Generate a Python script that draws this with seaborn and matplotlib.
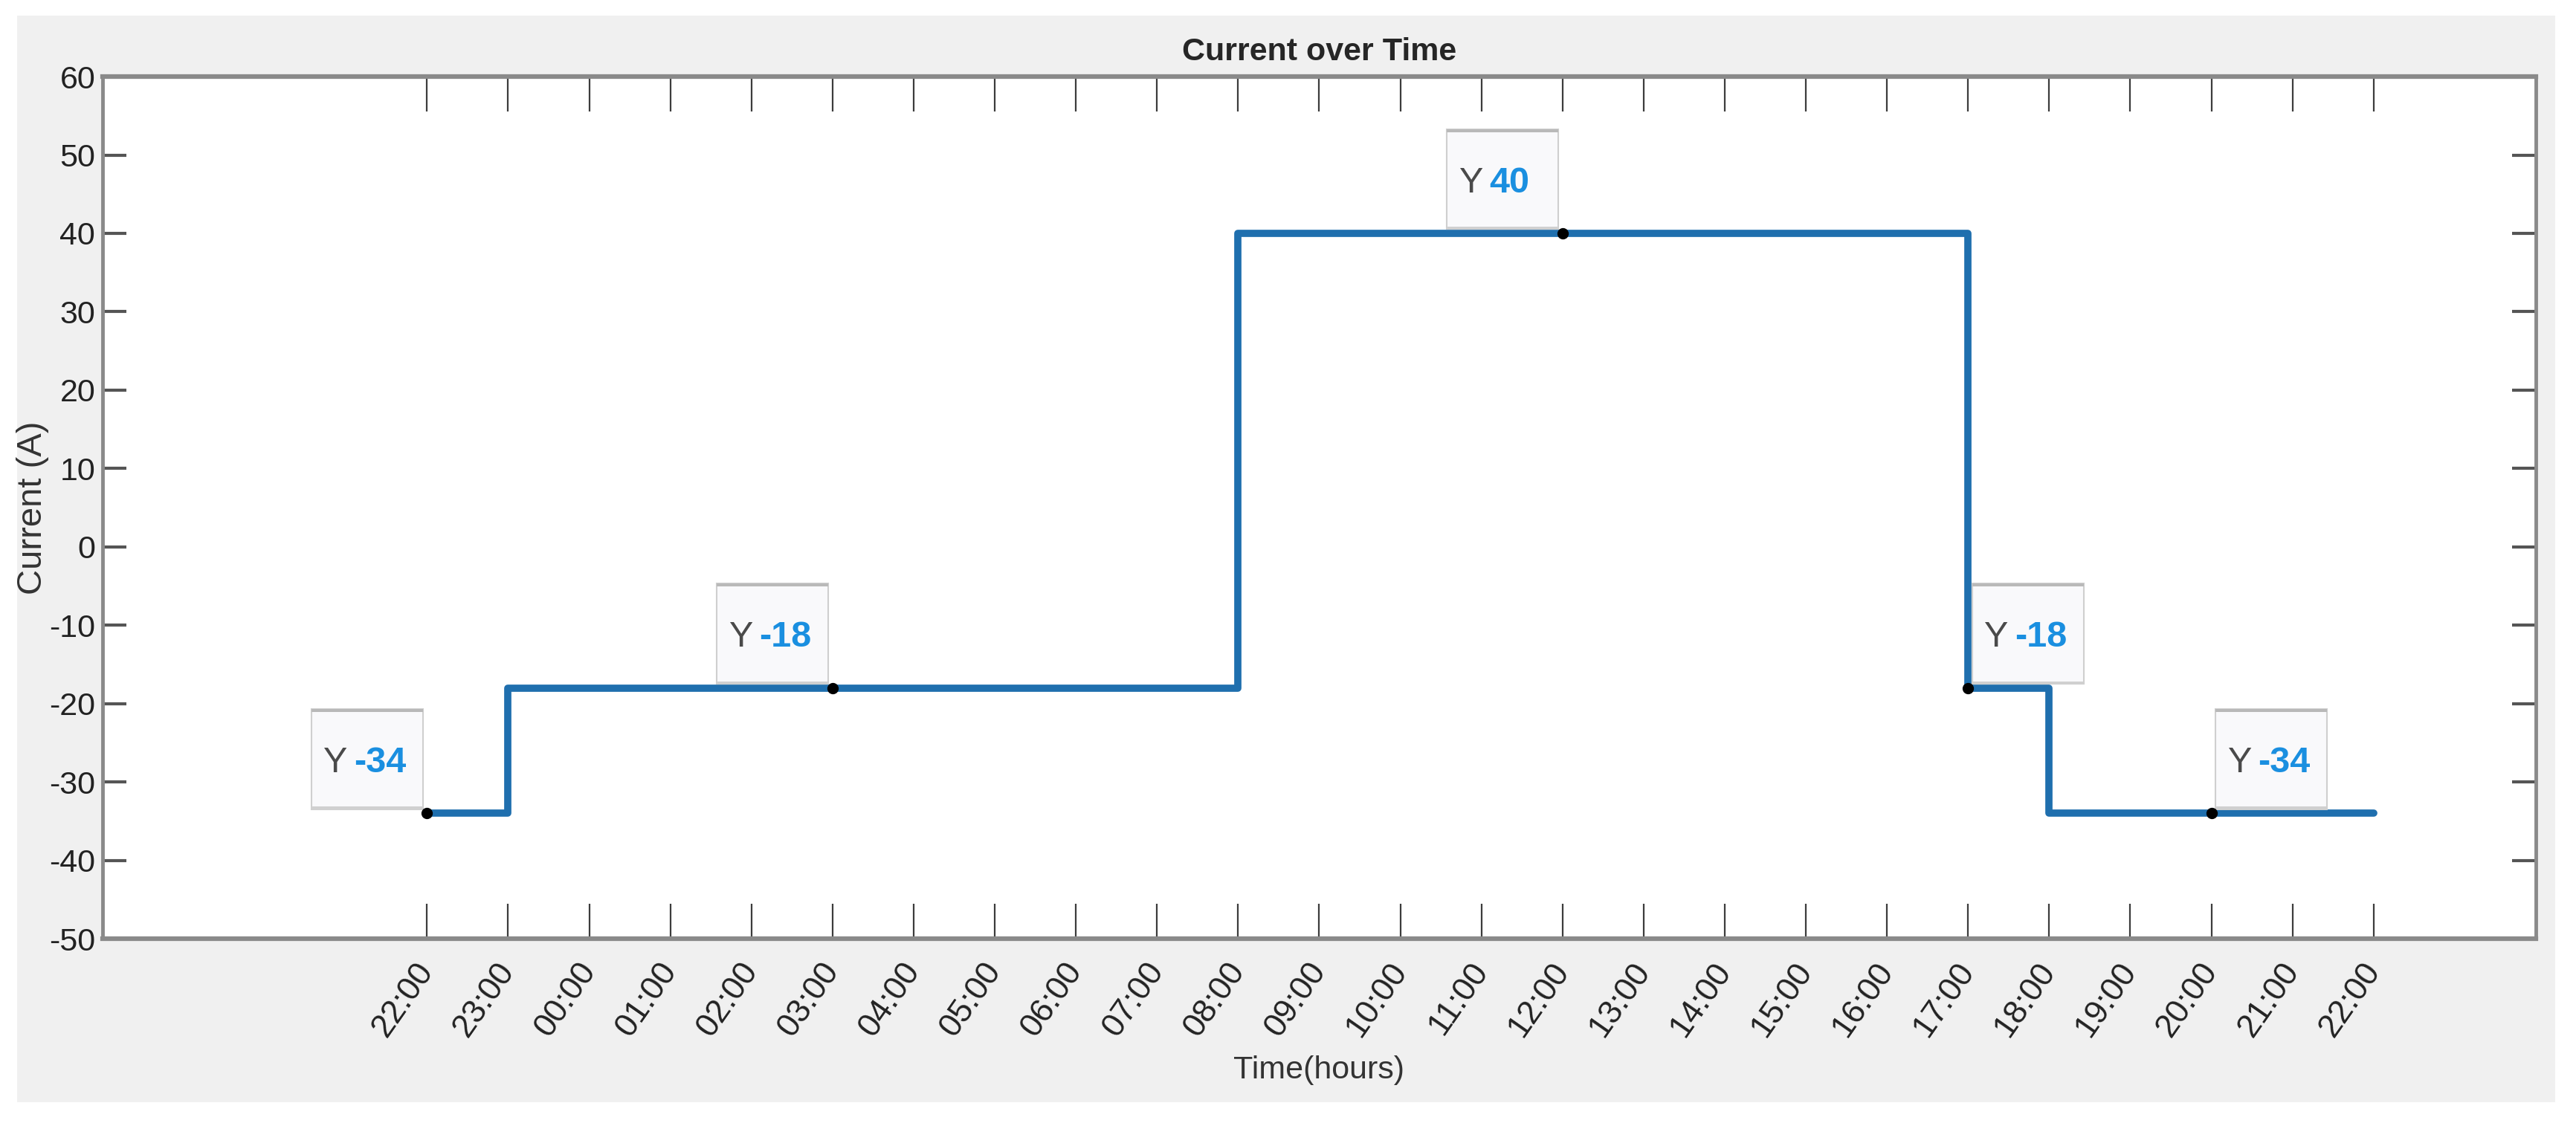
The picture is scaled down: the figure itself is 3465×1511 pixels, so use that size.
import pandas as pd
import seaborn as sns
import matplotlib.pyplot as plt
import matplotlib.dates as mdates
from matplotlib.patches import Rectangle
from matplotlib.text import Text
from matplotlib.offsetbox import DrawingArea, AnnotationBbox

# step data: time where the current changes, and the new value
change_times = ['2024-01-01 22:00', '2024-01-01 23:00', '2024-01-02 08:00',
                '2024-01-02 17:00', '2024-01-02 18:00', '2024-01-02 22:00']
current = [-34, -18, 40, -18, -34, -34]

# data tips shown on the chart
tip_times = ['2024-01-01 22:00', '2024-01-02 03:00', '2024-01-02 12:00',
             '2024-01-02 17:00', '2024-01-02 20:00']
tip_values = [-34, -18, 40, -18, -34]
tip_sides = ['left', 'left', 'left', 'right', 'right']

hour_labels = ['22:00', '23:00', '00:00', '01:00', '02:00', '03:00', '04:00',
               '05:00', '06:00', '07:00', '08:00', '09:00', '10:00', '11:00',
               '12:00', '13:00', '14:00', '15:00', '16:00', '17:00', '18:00',
               '19:00', '20:00', '21:00', '22:00']
y_ticks = [-50, -40, -30, -20, -10, 0, 10, 20, 30, 40, 50, 60]

LINE_COLOR = '#1f6fae'
TIP_BLUE = '#1a8fe0'


def add_tip(ax, x, y, value, side):
    # boxed "Y value" label next to a point, like a MATLAB data tip
    w, h = 108, 97
    da = DrawingArea(w, h, 0, 0)
    da.add_artist(Rectangle((0, 0), w, h, facecolor='#f9f9fb',
                            edgecolor='#cfcfcf', lw=1.5))
    da.add_artist(Rectangle((0, h - 3), w, 3, facecolor='#b9b9b9', edgecolor='none'))
    da.add_artist(Rectangle((0, 0), w, 2.5, facecolor='#d0d0d0', edgecolor='none'))
    da.add_artist(Text(12, h / 2, 'Y', color='#4a4a4a', fontsize=35,
                       va='center_baseline', ha='left'))
    da.add_artist(Text(41, h / 2, str(value), color=TIP_BLUE, fontsize=35,
                       fontweight='bold', va='center_baseline', ha='left'))
    if side == 'left':
        offset, align = (-4, 4), (1, 0)
    else:
        offset, align = (4, 4), (0, 0)
    ab = AnnotationBbox(da, (x, y), xybox=offset, xycoords='data',
                        boxcoords='offset points', box_alignment=align,
                        frameon=False, pad=0, zorder=5)
    ax.add_artist(ab)


def plot_current(df, tips):
    sns.set_style('white')
    plt.rcParams['font.family'] = ['Liberation Sans', 'DejaVu Sans']
    plt.rcParams['axes.unicode_minus'] = False

    fig = plt.figure(figsize=(34.65, 15.11), dpi=100)
    # grey window background like the MATLAB figure
    fig.add_artist(Rectangle((23 / 3465, 1 - 1483 / 1511), 3414 / 3465, 1462 / 1511,
                             transform=fig.transFigure, facecolor='#f0f0f0',
                             edgecolor='none', zorder=-10))
    ax = fig.add_axes([0.0398, 0.1641, 0.9446, 0.7677])
    ax.set_facecolor('white')

    sns.lineplot(data=df, x='Time', y='Current', ax=ax, color=LINE_COLOR,
                 linewidth=7, drawstyle='steps-post')

    # data tip markers and boxes
    ax.plot(tips['Time'], tips['Current'], 'o', color='black', markersize=10, zorder=6)
    for t, v, s in zip(tips['Time'], tips['Current'], tips['Side']):
        add_tip(ax, mdates.date2num(t), v, v, s)

    tick_pos = pd.date_range(change_times[0], change_times[-1], freq='h')
    ax.set_xticks(tick_pos)
    ax.set_xticklabels(hour_labels, rotation=55, ha='right', va='center',
                       rotation_mode='anchor', fontsize=32, color='#222222')
    ax.set_xlim(pd.Timestamp('2024-01-01 18:00'), pd.Timestamp('2024-01-03 00:00'))
    ax.set_ylim(-50, 60)
    ax.set_yticks(y_ticks)
    ax.tick_params(axis='y', labelsize=31, labelcolor='#222222')

    ax.tick_params(axis='x', direction='in', length=34, width=1.6, color='#3c3c3c',
                   top=True, bottom=True, pad=26)
    ax.tick_params(axis='y', direction='in', length=23, width=3, color='#555555',
                   left=True, right=True, pad=7)
    for name, sp in ax.spines.items():
        sp.set_color('#8a8a8a')
        sp.set_linewidth(4.5 if name in ('top', 'bottom') else 3.5)

    ax.set_title('Current over Time', fontsize=31, fontweight='bold', pad=16)
    ax.set_xlabel('Time(hours)', fontsize=31, color='#333333')
    ax.set_ylabel('Current (A)', fontsize=34, color='#333333')
    ax.xaxis.set_label_coords(0.5, -0.135)
    ax.yaxis.set_label_coords(-0.022, 0.5)

    fig.savefig('out.png', dpi=100)


if __name__ == "__main__":
    data = pd.DataFrame({'Time': pd.to_datetime(change_times), 'Current': current})
    tips = pd.DataFrame({'Time': pd.to_datetime(tip_times), 'Current': tip_values,
                         'Side': tip_sides})
    plot_current(data, tips)
